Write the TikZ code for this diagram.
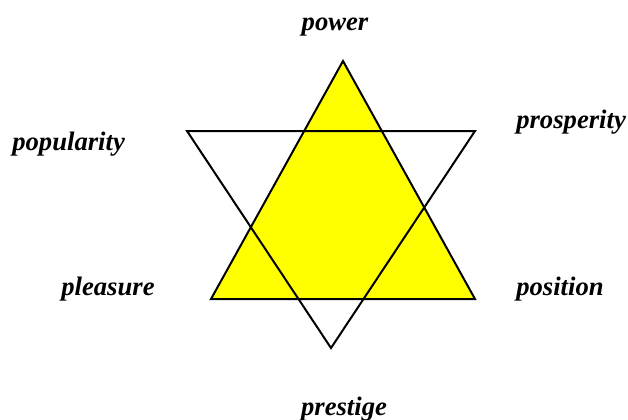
\documentclass[tikz,border=0pt]{standalone}
\usepackage{fontspec}
\setmainfont{Liberation Serif}
\usepackage{xcolor}
\usepackage{tikz}
\usetikzlibrary{calc}
\definecolor{fillup}{HTML}{FFFF00}

\begin{document}
\begin{tikzpicture}[
        x=0.75pt,y=-0.75pt,
        font=\bfseries\itshape\fontsize{20}{24}\selectfont,
        lbl/.style={inner sep=0pt,anchor=base},
        tri/.style={draw=black,line width=1.5pt,line join=miter}
      ]
      \useasboundingbox (0,0) rectangle (628,419);
      % upward triangle
      \coordinate (uptop) at (343,61);
      \coordinate (upleft) at (211,299);
      \coordinate (upright) at (475,299);
      % downward triangle
      \coordinate (dnleft) at (187,131);
      \coordinate (dnright) at (475,131);
      \coordinate (dnbot) at (331,348);
      \draw[tri,fill=fillup] (uptop) -- (upleft) -- (upright) -- cycle;
      \draw[tri] (dnleft) -- (dnright) -- (dnbot) -- cycle;
      % labels
      \node[lbl] (power) at (335,30) {power};
      \node[lbl,anchor=base west] (popularity) at (12,150) {popularity};
      \node[lbl,anchor=base west] (prosperity) at (516,128) {prosperity};
      \node[lbl,anchor=base west] (pleasure) at (61,295) {pleasure};
      \node[lbl,anchor=base west] (position) at (516,295) {position};
      \node[lbl] (prestige) at (344,415) {prestige};
    \end{tikzpicture}
\end{document}
